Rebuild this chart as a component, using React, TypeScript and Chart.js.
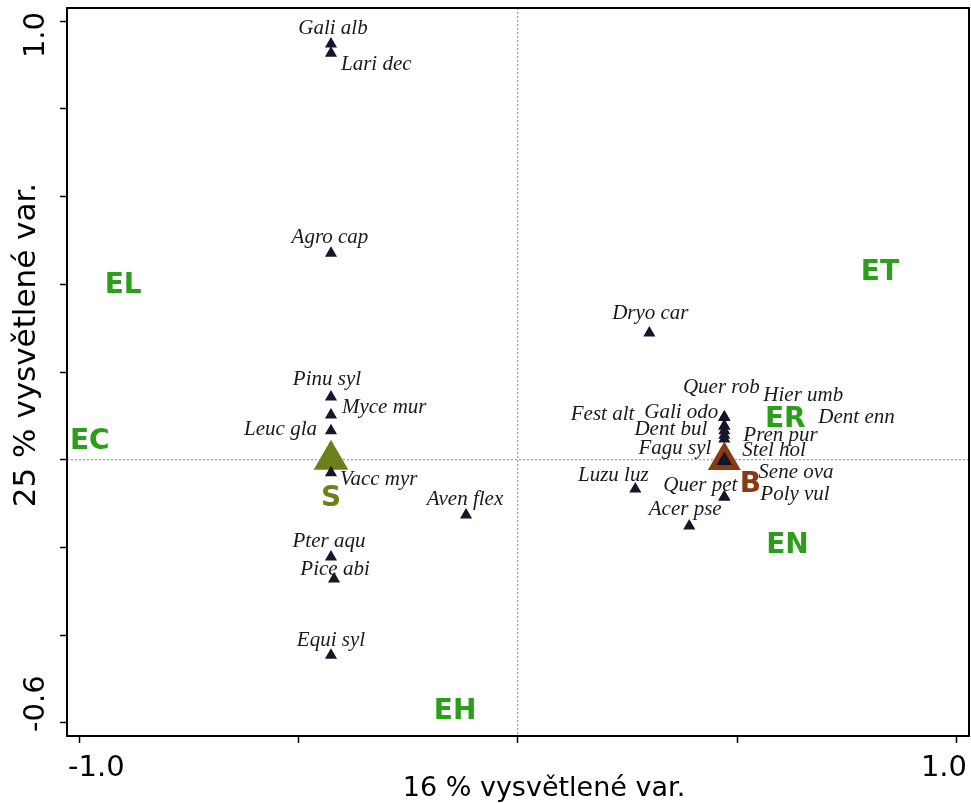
import React, { useEffect, useRef } from 'react';
import { Chart, registerables } from 'chart.js';

Chart.register(...registerables);

// ---------- data ----------
const speciesNames = [
  'Gali alb', 'Lari dec', 'Agro cap', 'Dryo car', 'Pinu syl', 'Myce mur', 'Leuc gla',
  'Vacc myr', 'Aven flex', 'Pter aqu', 'Pice abi', 'Equi syl', 'Luzu luz', 'Quer pet',
  'Acer pse', 'Quer rob', 'Gali odo', 'Hier umb', 'Dent enn', 'Fest alt', 'Dent bul',
  'Pren pur', 'Fagu syl', 'Stel hol', 'Sene ova', 'Poly vul',
];
const speciesX = [
  -0.426, -0.426, -0.426, 0.300, -0.426, -0.426, -0.426,
  -0.426, -0.118, -0.426, -0.419, -0.426, 0.268, 0.471,
  0.391, 0.471, 0.471, 0.471, 0.471, 0.471, 0.471,
  0.471, 0.471, 0.471, 0.471, 0.471,
];
const speciesY = [
  0.948, 0.927, 0.471, 0.289, 0.143, 0.102, 0.066,
  -0.030, -0.126, -0.222, -0.272, -0.446, -0.067, -0.085,
  -0.151, 0.097, 0.097, 0.097, 0.077, 0.077, 0.066,
  0.056, 0.047, 0.000, 0.000, -0.085,
];

const groupNames = ['S', 'B'];
const groupX = [-0.426, 0.471];
const groupY = [0.0, -0.002];

const envNames = ['EL', 'EC', 'ET', 'ER', 'EN', 'EH'];
const envX = [-0.900, -0.976, 0.826, 0.610, 0.615, -0.143];
const envY = [0.401, 0.045, 0.430, 0.095, -0.192, -0.571];

const xTickValues = [-1.0, -0.5, 0, 0.5, 1.0];
const xTickLabels = ['-1.0', '', '', '', '1.0'];
const yTickValues = [-0.6, -0.4, -0.2, 0, 0.2, 0.4, 0.6, 0.8, 1.0];
const yTickLabels = ['-0.6', '', '', '', '', '', '', '', '1.0'];

const xTitle = '16 % vysvětlené var.';
const yTitle = '25 % vysvětlené var.';

// ---------- layout / style (label offsets in px, alignment) ----------
const speciesLabelLayout: [number, number, CanvasTextAlign][] = [
  [2, -15, 'center'], [10, 11, 'left'], [-1, -16, 'center'], [1, -19, 'center'],
  [-4, -18, 'center'], [11, -7, 'left'], [-14, -1, 'right'], [9, 7, 'left'],
  [-1, -15, 'center'], [-2, -16, 'center'], [1, -10, 'center'], [0, -15, 'center'],
  [-22, -14, 'center'], [13, -12, 'right'], [-4, -16, 'center'], [-3, -30, 'center'],
  [-6, -5, 'right'], [39, -22, 'left'], [94, -8, 'left'], [-90, -11, 'right'],
  [-17, -1, 'right'], [19, 0, 'left'], [-13, 9, 'right'], [18, -9, 'left'],
  [34, 13, 'left'], [36, -3, 'left'],
];
const groupLabelLayout: [number, number][] = [[0, 39], [26, 24]];
const groupColors = ['#6b7f1b', '#8a3a0e'];
const envColor = '#2b9f19';
const markColor = '#14162a';

const SANS = "'DejaVu Sans', Verdana, sans-serif";
const SERIF = "'Liberation Serif', 'Times New Roman', serif";

const ordiPlugin = {
  id: 'ordiPlugin',
  beforeDatasetsDraw(chart: any) {
    const { ctx, chartArea: a, scales } = chart;
    const x0 = scales.x.getPixelForValue(0);
    const y0 = scales.y.getPixelForValue(0);
    ctx.save();
    ctx.strokeStyle = '#8a8a8a';
    ctx.lineWidth = 1;
    ctx.setLineDash([2, 2]);
    ctx.beginPath();
    ctx.moveTo(x0, a.top);
    ctx.lineTo(x0, a.bottom);
    ctx.moveTo(a.left, y0);
    ctx.lineTo(a.right, y0);
    ctx.stroke();
    ctx.restore();
  },
  afterDatasetsDraw(chart: any) {
    const { ctx, scales } = chart;
    const sx = scales.x, sy = scales.y;
    ctx.save();
    // species labels
    ctx.font = `italic 21px ${SERIF}`;
    ctx.fillStyle = '#1a1a1a';
    ctx.textBaseline = 'middle';
    speciesNames.forEach((n, i) => {
      const [dx, dy, al] = speciesLabelLayout[i];
      ctx.textAlign = al;
      ctx.fillText(n, sx.getPixelForValue(speciesX[i]) + dx, sy.getPixelForValue(speciesY[i]) + dy);
    });
    // group labels
    ctx.font = `bold 28px ${SANS}`;
    ctx.textAlign = 'center';
    groupNames.forEach((n, i) => {
      const [dx, dy] = groupLabelLayout[i];
      ctx.fillStyle = groupColors[i];
      ctx.fillText(n, sx.getPixelForValue(groupX[i]) + dx, sy.getPixelForValue(groupY[i]) + dy);
    });
    // environmental labels
    ctx.fillStyle = envColor;
    envNames.forEach((n, i) => {
      ctx.fillText(n, sx.getPixelForValue(envX[i]), sy.getPixelForValue(envY[i]) + 2);
    });
    ctx.restore();
  },
  afterDraw(chart: any) {
    const { ctx, chartArea: a } = chart;
    ctx.save();
    // frame
    ctx.strokeStyle = '#000';
    ctx.lineWidth = 2;
    ctx.strokeRect(a.left, a.top, a.right - a.left, a.bottom - a.top);
    // tick labels
    ctx.fillStyle = '#000';
    ctx.font = `29px ${SANS}`;
    ctx.textBaseline = 'middle';
    xTickValues.forEach((v, i) => {
      const t = xTickLabels[i];
      if (!t) return;
      const first = i === 0;
      ctx.textAlign = first ? 'left' : 'right';
      ctx.fillText(t, first ? a.left + 1 : a.right - 2, a.bottom + 32);
    });
    yTickValues.forEach((v, i) => {
      const t = yTickLabels[i];
      if (!t) return;
      const first = i === 0;
      ctx.save();
      ctx.translate(a.left - 31, first ? a.bottom - 4 : a.top + 4);
      ctx.rotate(-Math.PI / 2);
      ctx.textAlign = first ? 'left' : 'right';
      ctx.fillText(t, 0, 0);
      ctx.restore();
    });
    // axis titles
    ctx.font = `27px ${SANS}`;
    ctx.textAlign = 'center';
    ctx.fillText(xTitle, (a.left + a.right) / 2 + 26, a.bottom + 53);
    ctx.save();
    ctx.font = `31px ${SANS}`;
    ctx.translate(a.left - 40, (a.top + a.bottom) / 2 - 27);
    ctx.rotate(-Math.PI / 2);
    ctx.fillText(yTitle, 0, 0);
    ctx.restore();
    ctx.restore();
  },
};

export default function App() {
  const ref = useRef<HTMLCanvasElement | null>(null);

  useEffect(() => {
    if (!ref.current) return;
    const chart = new Chart(ref.current, {
      type: 'scatter',
      data: {
        datasets: [
          {
            label: 'species',
            data: speciesX.map((x, i) => ({ x, y: speciesY[i] })),
            pointStyle: 'triangle',
            pointRadius: 7,
            pointBackgroundColor: markColor,
            pointBorderWidth: 0,
            order: 0,
          },
          {
            label: 'S',
            data: [{ x: groupX[0], y: groupY[0] }],
            pointStyle: 'triangle',
            pointRadius: 20,
            pointBackgroundColor: groupColors[0],
            pointBorderWidth: 0,
            order: 1,
          },
          {
            label: 'B',
            data: [{ x: groupX[1], y: groupY[1] }],
            pointStyle: 'triangle',
            pointRadius: 14,
            pointBackgroundColor: markColor,
            pointBorderColor: groupColors[1],
            pointBorderWidth: 5,
            order: 1,
          },
        ],
      },
      options: {
        responsive: false,
        animation: false,
        events: [],
        layout: { autoPadding: false, padding: { top: 8, right: 2, left: 0, bottom: 0 } },
        plugins: { legend: { display: false }, tooltip: { enabled: false } },
        scales: {
          x: {
            type: 'linear',
            min: -1.028,
            max: 1.029,
            afterBuildTicks: (s: any) => { s.ticks = xTickValues.map((value) => ({ value })); },
            afterFit: (s: any) => { s.height = 67; },
            ticks: { display: false },
            border: { display: false },
            grid: { drawOnChartArea: false, drawTicks: true, tickLength: 7, tickColor: '#000', tickWidth: 1.5 },
          },
          y: {
            type: 'linear',
            min: -0.630,
            max: 1.030,
            afterBuildTicks: (s: any) => { s.ticks = yTickValues.map((value) => ({ value })); },
            afterFit: (s: any) => { s.width = 67; },
            ticks: { display: false },
            border: { display: false },
            grid: { drawOnChartArea: false, drawTicks: true, tickLength: 7, tickColor: '#000', tickWidth: 1.5 },
          },
        },
      },
      plugins: [ordiPlugin],
    });
    return () => chart.destroy();
  }, []);

  return (
    <div style={{ position: 'fixed', left: 0, top: 0, width: 971, height: 803, background: '#fff' }}>
      <canvas ref={ref} width={971} height={803} style={{ display: 'block' }} />
    </div>
  );
}
